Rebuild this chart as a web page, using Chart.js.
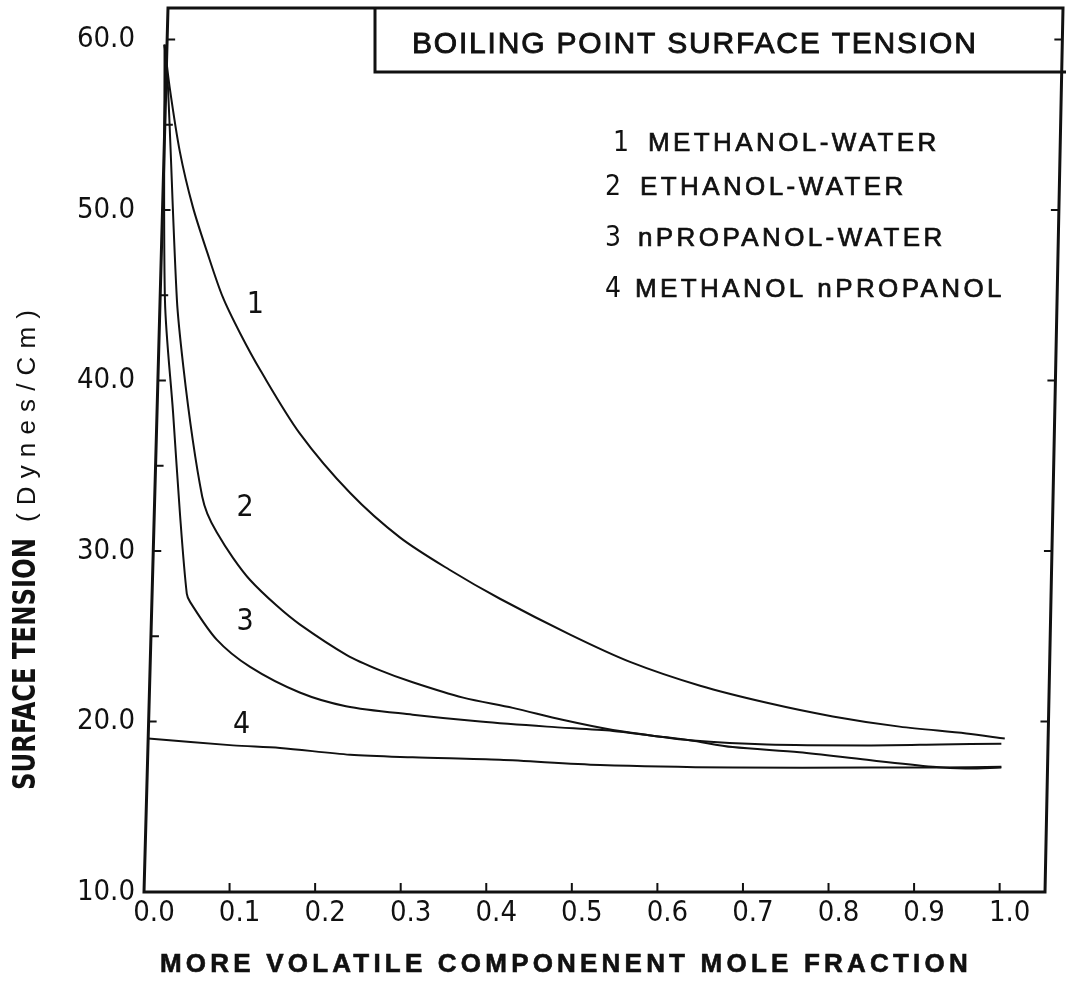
<!DOCTYPE html>
<html>
<head>
<meta charset="utf-8">
<script src="https://cdn.jsdelivr.net/npm/chart.js@4.4.1/dist/chart.umd.min.js"></script>
<style>
    html, body { margin: 0; padding: 0; background: #fff; }
</style>
</head>
<body>
<canvas id="grafik" width="1068" height="987"></canvas>
<script>

// mole fraction of the more volatile component (x) and surface tension in dynes/cm (y)
var xMetanolVoda = [0.024, 0.030, 0.042, 0.057, 0.074, 0.092, 0.112, 0.136, 0.182, 0.241, 0.299, 0.357, 0.416, 0.498, 0.568, 0.650, 0.728, 0.805, 0.883, 0.961, 1.006];
var yMetanolVoda = [59.7, 57.2, 53.4, 50.2, 47.5, 44.9, 42.8, 40.6, 36.9, 33.4, 30.8, 28.9, 27.2, 25.1, 23.5, 22.1, 21.1, 20.3, 19.7, 19.3, 19.0];

var xEtanolVoda = [0.024, 0.028, 0.0385, 0.046, 0.057, 0.068, 0.074, 0.085, 0.104, 0.124, 0.155, 0.182, 0.237, 0.276, 0.314, 0.373, 0.431, 0.489, 0.548, 0.590, 0.638, 0.688, 0.766, 0.845, 0.922, 0.960, 1.002];
var yEtanolVoda = [59.7, 57.2, 44.7, 40.8, 36.5, 33.2, 32.2, 31.1, 29.6, 28.3, 26.8, 25.7, 23.9, 23.0, 22.3, 21.4, 20.8, 20.1, 19.5, 19.2, 18.9, 18.5, 18.2, 17.75, 17.35, 17.25, 17.3];

var xPropanolVoda = [0.024, 0.0245, 0.034, 0.042, 0.050, 0.054, 0.085, 0.124, 0.182, 0.236, 0.314, 0.393, 0.471, 0.548, 0.590, 0.638, 0.728, 0.850, 0.930, 1.002];
var yPropanolVoda = [59.7, 44.7, 38.1, 32.2, 27.5, 27.0, 24.8, 23.2, 21.7, 20.9, 20.4, 20.0, 19.7, 19.45, 19.2, 18.9, 18.65, 18.6, 18.65, 18.7];

var xMetanolPropanol = [0.005, 0.104, 0.159, 0.241, 0.314, 0.416, 0.533, 0.688, 0.850, 0.930, 1.002];
var yMetanolPropanol = [19.0, 18.6, 18.45, 18.05, 17.9, 17.75, 17.45, 17.3, 17.3, 17.3, 17.35];

var nazivi = ["METHANOL-WATER", "ETHANOL-WATER", "nPROPANOL-WATER", "METHANOL nPROPANOL"];

// axis ticks
var xTicks = [0, 0.1, 0.2, 0.3, 0.4, 0.5, 0.6, 0.7, 0.8, 0.9, 1.0];
var yTicks = [10, 20, 30, 40, 50, 60];
var yCrtice = [20, 25, 30, 35, 40, 45, 50, 55, 60];

// curve numbers written next to the lines
var oznake = [
    { t: "1", x: 0.130, y: 44.4 },
    { t: "2", x: 0.118, y: 32.5 },
    { t: "3", x: 0.118, y: 25.8 },
    { t: "4", x: 0.114, y: 19.8 }
];

var USKI = '"DejaVu Sans Condensed", "DejaVu Sans", sans-serif';
var OBICNI = '"Liberation Sans", Arial, sans-serif';
var BOJA = '#111';

function tacke(xs, ys) {
    var lista = [];
    for (var i = 0; i < xs.length; i++) {
        lista.push({ x: xs[i], y: ys[i] });
    }
    return lista;
}

function pisi(ctx, tekst, x, y, font, razmak, podebljaj) {
    ctx.font = font;
    ctx.letterSpacing = (razmak || 0) + 'px';
    ctx.fillText(tekst, x, y);
    if (podebljaj) {
        // a thin outline gives the regular face a medium weight
        ctx.lineWidth = podebljaj;
        ctx.strokeText(tekst, x, y);
    }
    ctx.letterSpacing = '0px';
}

// squeezes or stretches the text so it takes exactly the given length
function pisiDuzina(ctx, tekst, x, y, font, duzina) {
    ctx.font = font;
    var w = ctx.measureText(tekst).width;
    ctx.save();
    ctx.translate(x, y);
    ctx.scale(duzina / w, 1);
    ctx.fillText(tekst, 0, 0);
    ctx.restore();
}

// frame, inward ticks, title box and all free text
var okvir = {
    id: 'okvir',
    afterDraw: function (chart) {
        var ctx = chart.ctx;
        var a = chart.chartArea;
        var xs = chart.scales.x, ys = chart.scales.y;
        var visina = a.bottom - a.top;

        // the hand drawn frame leans to the right going up
        function lijevo(py) { return a.left + 24 * (a.bottom - py) / visina; }
        function desno(py) { return a.right + 18 * (a.bottom - py) / visina; }

        ctx.save();
        ctx.strokeStyle = BOJA;
        ctx.fillStyle = BOJA;
        ctx.lineWidth = 3;
        ctx.lineJoin = 'miter';

        ctx.beginPath();
        ctx.moveTo(a.left, a.bottom);
        ctx.lineTo(lijevo(a.top), a.top);
        ctx.lineTo(desno(a.top), a.top);
        ctx.lineTo(a.right, a.bottom);
        ctx.closePath();
        ctx.stroke();

        // title box
        ctx.beginPath();
        ctx.moveTo(375, a.top);
        ctx.lineTo(375, 72);
        ctx.lineTo(1066, 72);
        ctx.stroke();

        ctx.lineWidth = 2;
        ctx.beginPath();
        xTicks.forEach(function (v) {
            if (v === 0) return;
            var px = xs.getPixelForValue(v);
            ctx.moveTo(px, a.bottom);
            ctx.lineTo(px, a.bottom - 9);
        });
        yCrtice.forEach(function (v) {
            var py = ys.getPixelForValue(v);
            ctx.moveTo(lijevo(py), py);
            ctx.lineTo(lijevo(py) + 8, py);
        });
        yTicks.forEach(function (v) {
            if (v === 10) return;
            var py = ys.getPixelForValue(v);
            ctx.moveTo(desno(py), py);
            ctx.lineTo(desno(py) - 8, py);
        });
        ctx.stroke();

        ctx.textBaseline = 'alphabetic';
        ctx.textAlign = 'left';
        pisi(ctx, "BOILING POINT SURFACE TENSION", 412, 53, '30px ' + OBICNI, 1.8, 0.9);

        // legend
        var redovi = [151, 195, 246, 297];
        var brojX = [613, 605, 605, 605];
        var tekstX = [648, 640, 638, 635];
        for (var i = 0; i < nazivi.length; i++) {
            pisi(ctx, String(i + 1), brojX[i], redovi[i], '28px ' + USKI, 0);
            pisi(ctx, nazivi[i], tekstX[i], redovi[i], '26px ' + OBICNI, 3.4, 0.7);
        }

        // numbers on the curves
        ctx.textAlign = 'center';
        ctx.textBaseline = 'middle';
        oznake.forEach(function (o) {
            pisi(ctx, o.t, xs.getPixelForValue(o.x), ys.getPixelForValue(o.y), '30px ' + USKI, 0);
        });

        // axis titles
        ctx.textAlign = 'left';
        ctx.textBaseline = 'alphabetic';
        pisi(ctx, "MORE VOLATILE COMPONENENT MOLE FRACTION", 160, 972, 'bold 26px ' + OBICNI, 4.2, 0.6);

        ctx.translate(35, 790);
        ctx.rotate(-Math.PI / 2);
        pisiDuzina(ctx, "SURFACE TENSION", 0, 0, 'bold 32px ' + USKI, 252);
        ctx.font = '26px ' + OBICNI;
        var dyn = "(Dynes/Cm)";
        var razmak = (220 - ctx.measureText(dyn).width) / dyn.length;
        pisi(ctx, dyn, 268, 0, '26px ' + OBICNI, razmak);
        ctx.restore();
    }
};

var ctx = document.getElementById("grafik").getContext('2d');
var grafik = new Chart(ctx, {
    type: 'line',
    data: {
        datasets: [
            { label: nazivi[0], data: tacke(xMetanolVoda, yMetanolVoda) },
            { label: nazivi[1], data: tacke(xEtanolVoda, yEtanolVoda) },
            { label: nazivi[2], data: tacke(xPropanolVoda, yPropanolVoda) },
            { label: nazivi[3], data: tacke(xMetanolPropanol, yMetanolPropanol) }
        ]
    },
    options: {
        responsive: false,
        animation: false,
        layout: {
            padding: { left: 0, right: 23, top: 8, bottom: 0 }
        },
        elements: {
            point: { radius: 0 },
            line: {
                borderColor: BOJA,
                borderWidth: 2,
                fill: false,
                tension: 0.3
            }
        },
        plugins: {
            legend: { display: false },
            tooltip: { enabled: false }
        },
        scales: {
            x: {
                type: 'linear',
                min: 0,
                max: 1.053,
                grid: { display: false, drawTicks: false },
                border: { display: false },
                afterBuildTicks: function (scale) {
                    scale.ticks = xTicks.map(function (v) { return { value: v }; });
                },
                afterFit: function (scale) {
                    scale.height = 95;
                    scale.paddingLeft = 0;
                    scale.paddingRight = 0;
                },
                ticks: {
                    color: BOJA,
                    padding: 4,
                    labelOffset: 10,
                    maxRotation: 0,
                    autoSkip: false,
                    font: { family: USKI, size: 29 },
                    callback: function (v) { return v.toFixed(1); }
                }
            },
            y: {
                type: 'linear',
                min: 10,
                max: 61.85,
                grid: { display: false, drawTicks: false },
                border: { display: false },
                afterBuildTicks: function (scale) {
                    scale.ticks = yTicks.map(function (v) { return { value: v }; });
                },
                afterFit: function (scale) {
                    scale.width = 144;
                    scale.paddingTop = 0;
                    scale.paddingBottom = 0;
                },
                ticks: {
                    color: BOJA,
                    padding: 9,
                    font: { family: USKI, size: 29 },
                    callback: function (v) { return v.toFixed(1); }
                }
            }
        }
    },
    plugins: [okvir]
});

</script>
</body>
</html>
